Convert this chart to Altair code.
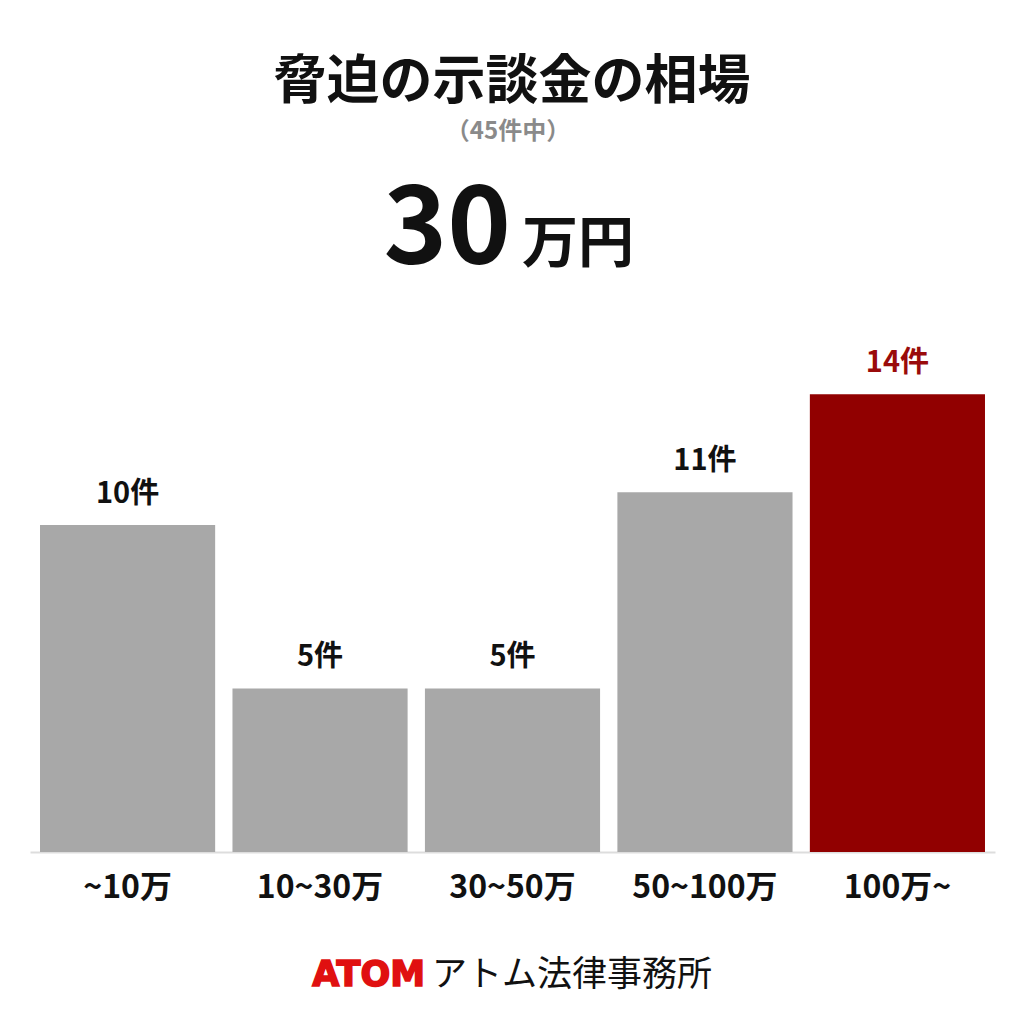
import altair as alt
import pandas as pd

categories = ["~10万", "10~30万", "30~50万", "50~100万", "100万~"]
counts = [10, 5, 5, 11, 14]
unit = "件"
title_text = "脅迫の示談金の相場"
subtitle_text = "（45件中）"
big_number = "30"
big_unit = "万円"
brand_en = "ATOM"
brand_jp = "アトム法律事務所"

GRAY = "#a8a8a8"
RED = "#910000"
LABEL_RED = "#9a0b0b"
FONT = "Noto Sans CJK JP"

top = max(counts)
df = pd.DataFrame({
    "category": categories,
    "count": counts,
    "label": [f"{c}{unit}" for c in counts],
    "highlight": [c == top for c in counts],
})

W, H = 965, 552

x = alt.X("category:N", sort=categories, title=None,
          scale=alt.Scale(paddingInner=0.09, paddingOuter=0.052),
          axis=alt.Axis(labelAngle=0, ticks=False, domainColor="#dddddd", domainWidth=2,
                        labelFont=FONT, labelFontSize=32, labelFontWeight="bold",
                        labelColor="#111111", labelPadding=20))
y = alt.Y("count:Q", scale=alt.Scale(domain=[0, 16.88], nice=False), axis=None)

base = alt.Chart(df)
bars = base.mark_bar().encode(
    x=x, y=y,
    color=alt.condition(alt.datum.highlight, alt.value(RED), alt.value(GRAY)),
)
labels = base.mark_text(font=FONT, fontSize=29, fontWeight="bold", baseline="alphabetic", dy=-22).encode(
    x=alt.X("category:N", sort=categories),
    y="count:Q",
    text="label:N",
    color=alt.condition(alt.datum.highlight, alt.value(LABEL_RED), alt.value("#111111")),
)

one = pd.DataFrame({"k": [0]})
def txt(text, xv, yv, **kw):
    return alt.Chart(one).mark_text(font=FONT, baseline="alphabetic", **kw).encode(
        x=alt.value(xv), y=alt.value(yv), text=alt.value(text))

title = txt(title_text, 482, -201, fontSize=53, fontWeight="bold", color="#111111", align="center")
subtitle = txt(subtitle_text, 478, -161, fontSize=24, fontWeight="bold", color="#8a8a8a", align="center")
num = txt(big_number, 481, -37, fontSize=108, fontWeight="bold", color="#111111", align="right")
numu = txt(big_unit, 492, -38, fontSize=56, fontWeight="bold", color="#111111", align="left")
b_en = alt.Chart(one).mark_text(font="DejaVu Sans", fontSize=35, fontWeight="bold", baseline="alphabetic",
                                color="#e01010", stroke="#e01010", strokeWidth=1.6, align="right").encode(
    x=alt.value(395), y=alt.value(686), text=alt.value(brand_en))
b_jp = txt(brand_jp, 402, 686, fontSize=35, color="#111111", align="left")

chart = alt.layer(bars, labels, title, subtitle, num, numu, b_en, b_jp).properties(
    width=W, height=H,
    autosize=alt.AutoSizeParams(type="none"),
    padding={"left": 22, "top": 292, "right": 21, "bottom": 150},
    background="white",
).configure_view(stroke=None)

chart.save("out.html", embed_options={"renderer": "svg", "actions": False})
